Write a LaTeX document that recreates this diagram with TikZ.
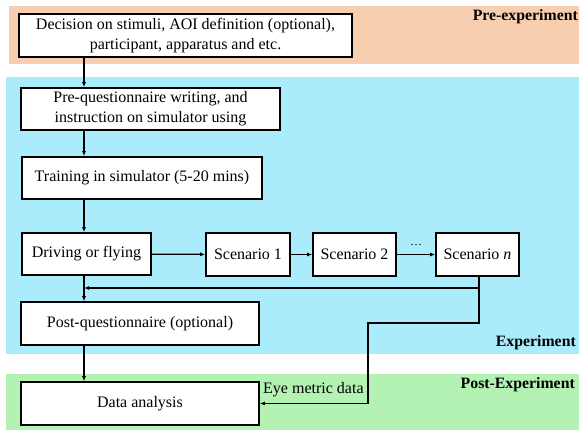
\documentclass[tikz,border=0pt]{standalone}
\usepackage{fontspec}
\setmainfont{Liberation Serif}
\usetikzlibrary{arrows.meta}

\definecolor{prephase}{RGB}{248,206,176}
\definecolor{expphase}{RGB}{170,235,252}
\definecolor{postphase}{RGB}{180,242,180}

\tikzset{
  stage/.style={draw, line width=1.6pt, fill=white, align=center, inner sep=0pt,
    font=\fontsize{16}{20}\selectfont},
  flow/.style={line width=1.3pt, -{Latex[length=5pt,width=4pt]}},
  phase/.style={anchor=east, inner sep=0pt, font=\fontsize{15.8}{18}\selectfont\bfseries},
}

\begin{document}
\begin{tikzpicture}[x=1pt,y=1pt]
  \useasboundingbox (0,0) rectangle (579,-430);
  % Phase bands
  \fill[prephase] (9,-6) rectangle (579,-64);
  \fill[expphase] (6,-77) rectangle (579,-354);
  \fill[postphase] (6,-374) rectangle (579,-430);
  \node[phase] (prelbl) at (578,-17) {Pre-experiment};
  \node[phase] (explbl) at (576,-343) {Experiment};
  \node[phase] (postlbl) at (575,-385) {Post-Experiment};
  % Stages
  \node[stage, minimum width=333, minimum height=43] (dec) at (185.5,-35.5)
    {Decision on stimuli, AOI definition (optional),\\ participant, apparatus and etc.};
  \node[stage, minimum width=259, minimum height=42] (preq) at (150.5,-109)
    {Pre-questionnaire writing, and\\ instruction on simulator using};
  \node[stage, minimum width=240, minimum height=42] (train) at (142,-178)
    {Training in simulator (5-20 mins)};
  \node[stage, minimum width=129, minimum height=42] (drive) at (86.5,-254)
    {Driving or flying};
  \node[stage, minimum width=84, minimum height=43] (sc1) at (248,-254.5) {Scenario 1};
  \node[stage, minimum width=83, minimum height=43] (sc2) at (354.5,-254.5) {Scenario 2};
  \node[stage, minimum width=83, minimum height=43] (scn) at (477.5,-254.5) {Scenario \textit{n}};
  \node[stage, minimum width=238, minimum height=43] (postq) at (140,-323.5)
    {Post-questionnaire (optional)};
  \node[stage, minimum width=238, minimum height=43] (data) at (140,-403.5)
    {Data analysis};
  % Main flow down the left side
  \coordinate (spine) at (84,0);
  \draw[flow] (dec.south -| spine) -- (preq.north -| spine);
  \draw[flow] (preq.south -| spine) -- (train.north -| spine);
  \draw[flow] (train.south -| spine) -- (drive.north -| spine);
  \draw[flow] (drive.south -| spine) -- (postq.north -| spine);
  \draw[flow] (postq.south -| spine) -- (data.north -| spine);
  % Scenarios
  \draw[flow] (drive) -- (sc1);
  \draw[flow] (sc1) -- (sc2);
  \draw[flow] (sc2) -- node[above=5pt, font=\fontsize{12}{14}\selectfont] (dots) {\dots} (scn);
  % Back to the main flow
  \coordinate (back) at (479,-288);
  \draw[flow] (scn.south -| back) -- (back) -- (back -| spine);
  % Eye metric data to the analysis
  \coordinate (bend) at (368,-323);
  \draw[flow] (back) |- (bend) |- (data.east);
  \node[anchor=base west, inner sep=0pt, font=\fontsize{16}{18}\selectfont] (eyelbl)
    at (263,-394) {Eye metric data};
\end{tikzpicture}
\end{document}
